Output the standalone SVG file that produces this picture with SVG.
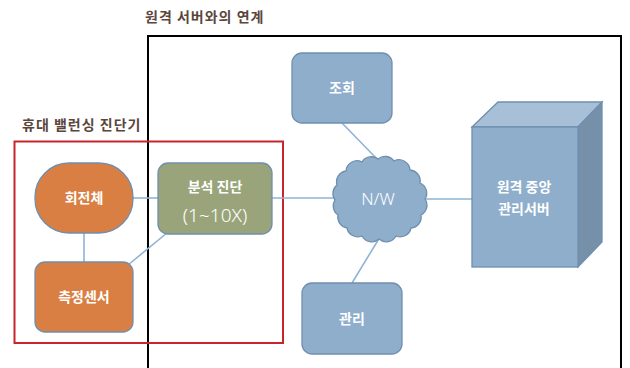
<svg xmlns="http://www.w3.org/2000/svg" width="630" height="368" viewBox="0 0 630 368">
<style>
.ttl{font-family:"Noto Sans CJK KR","Noto Sans",sans-serif;font-size:14px;fill:#5a463c;font-weight:bold;letter-spacing:1px}
.lbl{font-family:"Noto Sans CJK KR","Noto Sans",sans-serif;font-size:14px;fill:#ffffff;font-weight:bold;text-anchor:middle}
.lt{font-family:"Noto Sans","Noto Sans CJK KR",sans-serif;fill:#ffffff;text-anchor:middle;font-weight:300}
.conn line{stroke:#8fb4d6;stroke-width:1.6}
.blue{fill:#8eaecb;stroke:#6f8fae;stroke-width:1.3}
.orange{fill:#d97f44;stroke:#6f8fae;stroke-width:1.3}
</style>
<rect width="630" height="368" fill="#ffffff"/>
<g id="frames">
<rect x="148" y="36" width="473" height="340" fill="none" stroke="#000" stroke-width="2"/>
<rect x="14.5" y="141.5" width="268.5" height="201.5" fill="none" stroke="#c8242c" stroke-width="2"/>
<text class="ttl" x="145" y="22">원격 서버와의 연계</text>
<text class="ttl" x="22" y="130">휴대 밸런싱 진단기</text>
</g>
<g id="connectors" class="conn">
<line x1="133" y1="198" x2="158" y2="198"/>
<line x1="84" y1="233" x2="84" y2="262"/>
<line x1="173" y1="228" x2="128" y2="265"/>
<line x1="272" y1="198" x2="334" y2="198"/>
<line x1="342" y1="123" x2="378" y2="160"/>
<line x1="380" y1="237" x2="352" y2="283"/>
<line x1="425" y1="199" x2="472" y2="199"/>
</g>
<g id="n_rotor">
<rect class="orange" x="35" y="163" width="98" height="70" rx="34" ry="34"/>
<text class="lbl" x="84" y="203" font-size="15">회전체</text>
</g>
<g id="n_sensor">
<rect class="orange" x="35" y="262" width="98" height="70" rx="10"/>
<text class="lbl" x="84" y="302" font-size="15">측정센서</text>
</g>
<g id="n_analysis">
<rect x="158" y="163" width="114" height="71" rx="10" fill="#9aa47a" stroke="#6f8fae" stroke-width="1.3"/>
<text class="lbl" x="215" y="192" font-size="15">분석 진단</text>
<text class="lt" x="215" y="222" font-size="19">(1~10X)</text>
</g>
<g id="n_query">
<rect class="blue" x="292" y="53" width="100" height="70" rx="10"/>
<text class="lbl" x="342" y="93">조회</text>
</g>
<g id="n_manage">
<rect class="blue" x="302" y="283" width="100" height="71" rx="10"/>
<text class="lbl" x="352" y="324">관리</text>
</g>
<g id="n_cloud">
<path class="blue" d="M425,199 A11,11 0 0 0 420,183 A11,11 0 0 0 410,170 A11,11 0 0 0 394,161 A11,11 0 0 0 378,159 A11,11 0 0 0 362,162 A11,11 0 0 0 346,171 A11,11 0 0 0 337,185 A11,11 0 0 0 335,200 A11,11 0 0 0 338,215 A11,11 0 0 0 347,228 A11,11 0 0 0 362,236 A11,11 0 0 0 379,239 A11,11 0 0 0 396,236 A11,11 0 0 0 411,228 A11,11 0 0 0 421,215 A11,11 0 0 0 425,199 Z"/>
<text class="lt" x="378" y="205" font-size="17">N/W</text>
</g>
<g id="n_server">
<polygon points="472,127 498,102 602,102 578,127" fill="#a7c0d8" stroke="#6f8fae" stroke-width="1.3"/>
<polygon points="578,127 602,102 602,242 578,267" fill="#7690a9" stroke="#6f8fae" stroke-width="1.3"/>
<rect class="blue" x="472" y="127" width="106" height="140"/>
<text class="lbl" x="524" y="192" font-size="16">원격 중앙</text>
<text class="lbl" x="524" y="214" font-size="16">관리서버</text>
</g>
</svg>
